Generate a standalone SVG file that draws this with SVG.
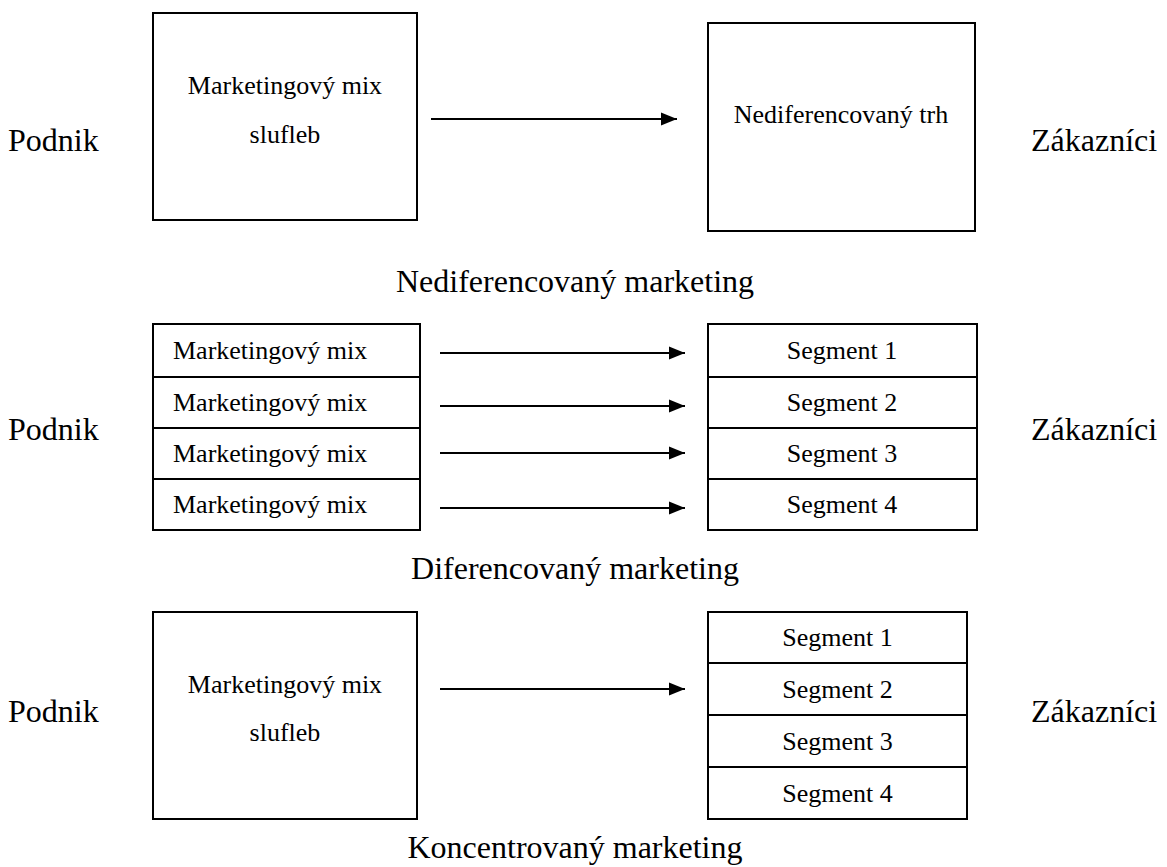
<svg xmlns="http://www.w3.org/2000/svg" width="1167" height="867" viewBox="0 0 1167 867">
  <style>
    text { font-family: "Liberation Serif", "Times New Roman", serif; fill: #000; }
    .side { font-size: 32px; }
    .cap { font-size: 32px; text-anchor: middle; }
    .in { font-size: 26px; }
    .mid { text-anchor: middle; }
    .box { fill: #fff; stroke: #000; stroke-width: 2; }
    .sep { stroke: #000; stroke-width: 2; }
    .conn line { stroke: #000; stroke-width: 2; marker-end: url(#arrow); }
  </style>
  <defs>
    <marker id="arrow" markerUnits="userSpaceOnUse" markerWidth="18" markerHeight="14" refX="16" refY="7" orient="auto">
      <path d="M0,0.5 L16,7 L0,13.5 z" fill="#000"/>
    </marker>
  </defs>
  <rect width="1167" height="867" fill="#fff"/>

  <!-- Undifferentiated marketing -->
  <g id="podnik-1"><text class="side" x="8" y="151">Podnik</text></g>
  <g id="mix-1">
    <rect class="box" x="153" y="13" width="264" height="207"/>
    <text class="in mid" x="285" y="94">Marketingový mix</text>
    <text class="in mid" x="285" y="143">slufleb</text>
  </g>
  <g id="trh-1">
    <rect class="box" x="708" y="23" width="267" height="208"/>
    <text class="in mid" x="841" y="123">Nediferencovaný trh</text>
  </g>
  <g id="zakaznici-1"><text class="side" x="1031" y="151">Zákazníci</text></g>
  <g id="caption-1"><text class="cap" x="575" y="292">Nediferencovaný marketing</text></g>

  <!-- Differentiated marketing -->
  <g id="podnik-2"><text class="side" x="8" y="440">Podnik</text></g>
  <g id="mix-2">
    <rect class="box" x="153" y="324" width="267" height="206"/>
    <line class="sep" x1="153" y1="377" x2="420" y2="377"/>
    <line class="sep" x1="153" y1="428" x2="420" y2="428"/>
    <line class="sep" x1="153" y1="479" x2="420" y2="479"/>
    <text class="in" x="173" y="359">Marketingový mix</text>
    <text class="in" x="173" y="411">Marketingový mix</text>
    <text class="in" x="173" y="462">Marketingový mix</text>
    <text class="in" x="173" y="513">Marketingový mix</text>
  </g>
  <g id="segmenty-2">
    <rect class="box" x="708" y="324" width="269" height="206"/>
    <line class="sep" x1="708" y1="377" x2="977" y2="377"/>
    <line class="sep" x1="708" y1="428" x2="977" y2="428"/>
    <line class="sep" x1="708" y1="479" x2="977" y2="479"/>
    <text class="in mid" x="842" y="359">Segment 1</text>
    <text class="in mid" x="842" y="411">Segment 2</text>
    <text class="in mid" x="842" y="462">Segment 3</text>
    <text class="in mid" x="842" y="513">Segment 4</text>
  </g>
  <g id="zakaznici-2"><text class="side" x="1031" y="440">Zákazníci</text></g>
  <g id="caption-2"><text class="cap" x="575" y="579">Diferencovaný marketing</text></g>

  <!-- Concentrated marketing -->
  <g id="podnik-3"><text class="side" x="8" y="722">Podnik</text></g>
  <g id="mix-3">
    <rect class="box" x="153" y="612" width="264" height="207"/>
    <text class="in mid" x="285" y="693">Marketingový mix</text>
    <text class="in mid" x="285" y="741">slufleb</text>
  </g>
  <g id="segmenty-3">
    <rect class="box" x="708" y="612" width="259" height="207"/>
    <line class="sep" x1="708" y1="663" x2="967" y2="663"/>
    <line class="sep" x1="708" y1="715" x2="967" y2="715"/>
    <line class="sep" x1="708" y1="767" x2="967" y2="767"/>
    <text class="in mid" x="837.5" y="646">Segment 1</text>
    <text class="in mid" x="837.5" y="698">Segment 2</text>
    <text class="in mid" x="837.5" y="750">Segment 3</text>
    <text class="in mid" x="837.5" y="802">Segment 4</text>
  </g>
  <g id="zakaznici-3"><text class="side" x="1031" y="722">Zákazníci</text></g>
  <g id="caption-3"><text class="cap" x="575" y="858">Koncentrovaný marketing</text></g>

  <!-- Connectors -->
  <g id="connectors" class="conn">
    <line x1="431" y1="119" x2="677" y2="119"/>
    <line x1="440" y1="353" x2="685" y2="353"/>
    <line x1="440" y1="406" x2="685" y2="406"/>
    <line x1="440" y1="453" x2="685" y2="453"/>
    <line x1="440" y1="508" x2="685" y2="508"/>
    <line x1="440" y1="689" x2="685" y2="689"/>
  </g>
</svg>
